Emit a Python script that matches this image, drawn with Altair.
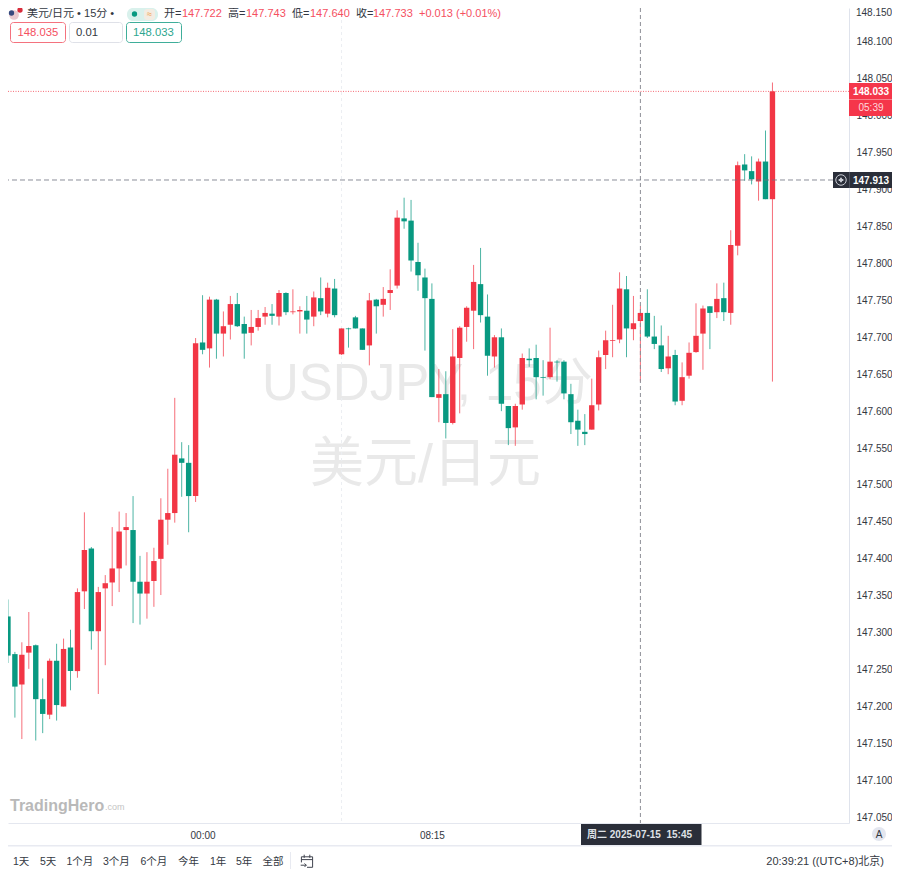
import altair as alt
import pandas as pd

opens = [147.286,147.322,147.271,147.230,147.273,147.283,147.210,147.189,147.262,147.200,
147.280,147.248,147.356,147.414,147.302,147.360,147.368,147.387,147.439,147.439,
147.369,147.353,147.370,147.400,147.453,147.462,147.536,147.530,147.485,147.693,
147.685,147.751,147.705,147.717,147.745,147.718,147.706,147.714,147.728,147.732,
147.728,147.760,147.734,147.735,147.736,147.728,147.753,147.732,147.766,147.677,
147.712,147.727,147.712,147.689,147.751,147.744,147.760,147.770,147.861,147.858,
147.802,147.781,147.752,147.618,147.623,147.584,147.672,147.714,147.736,147.772,
147.728,147.674,147.700,147.607,147.578,147.609,147.671,147.672,147.646,147.646,
147.667,147.667,147.623,147.587,147.572,147.575,147.609,147.676,147.695,147.697,
147.765,147.711,147.722,147.733,147.701,147.689,147.658,147.676,147.614,147.648,
147.680,147.705,147.742,147.734,147.753,147.733,147.824,147.934,147.925,147.911,
147.938,147.887]
closes = [147.318,147.269,147.227,147.270,147.282,147.210,147.190,147.262,147.202,147.278,
147.248,147.355,147.412,147.302,147.355,147.367,147.387,147.437,147.443,147.369,
147.353,147.369,147.397,147.453,147.462,147.541,147.530,147.485,147.692,147.683,
147.751,147.705,147.715,147.745,147.715,147.705,147.714,147.726,147.733,147.729,
147.760,147.734,147.735,147.737,147.724,147.754,147.735,147.767,147.730,147.712,
147.711,147.712,147.683,147.750,147.742,147.752,147.764,147.862,147.857,147.804,
147.784,147.753,147.619,147.623,147.584,147.674,147.713,147.740,147.775,147.730,
147.675,147.700,147.610,147.577,147.607,147.672,147.669,147.646,147.645,147.667,
147.666,147.624,147.585,147.575,147.569,147.608,147.673,147.696,147.696,147.766,
147.712,147.719,147.733,147.701,147.691,147.657,147.674,147.613,147.646,147.679,
147.702,147.739,147.733,147.752,147.734,147.825,147.933,147.926,147.914,147.938,
147.887,148.033]
highs = [147.325,147.345,147.274,147.287,147.328,147.284,147.238,147.265,147.285,147.292,
147.304,147.360,147.463,147.416,147.362,147.378,147.443,147.464,147.462,147.485,
147.404,147.409,147.415,147.482,147.522,147.618,147.558,147.554,147.699,147.757,
147.755,147.752,147.735,147.756,147.760,147.728,147.737,147.737,147.741,147.745,
147.764,147.761,147.765,147.742,147.756,147.762,147.781,147.774,147.779,147.712,
147.713,147.729,147.712,147.760,147.752,147.768,147.792,147.872,147.889,147.886,
147.828,147.793,147.773,147.657,147.654,147.711,147.715,147.742,147.798,147.821,
147.758,147.703,147.712,147.607,147.610,147.678,147.685,147.690,147.669,147.713,
147.669,147.669,147.637,147.602,147.596,147.644,147.682,147.709,147.744,147.788,
147.783,147.756,147.743,147.765,147.729,147.716,147.702,147.683,147.666,147.693,
147.746,147.743,147.742,147.773,147.774,147.845,147.938,147.948,147.945,147.942,
147.980,148.045]
lows = [147.280,147.259,147.185,147.156,147.251,147.154,147.164,147.183,147.181,147.200,
147.222,147.239,147.332,147.277,147.217,147.256,147.336,147.355,147.391,147.313,
147.311,147.319,147.335,147.351,147.419,147.449,147.484,147.436,147.477,147.677,
147.659,147.671,147.674,147.697,147.714,147.671,147.689,147.709,147.717,147.717,
147.716,147.730,147.731,147.705,147.705,147.715,147.730,147.727,147.727,147.676,
147.686,147.712,147.683,147.662,147.705,147.728,147.737,147.766,147.847,147.789,
147.763,147.682,147.619,147.585,147.563,147.582,147.597,147.694,147.684,147.720,
147.648,147.659,147.600,147.554,147.553,147.602,147.660,147.616,147.621,147.643,
147.640,147.616,147.569,147.553,147.554,147.575,147.601,147.657,147.673,147.692,
147.673,147.696,147.640,147.699,147.684,147.653,147.650,147.608,147.608,147.644,
147.679,147.656,147.684,147.726,147.722,147.717,147.811,147.912,147.907,147.885,
147.887,147.640]

price_ticks = [147.05,147.10,147.15,147.20,147.25,147.30,147.35,147.40,147.45,147.50,147.55,
               147.60,147.65,147.70,147.75,147.80,147.85,147.90,147.95,148.00,148.05,148.10]
time_ticks = [29, 62]
time_labels = ["00:00", "08:15"]
session_break = 49
crosshair_bar = 92
crosshair_price = 147.913
last_price = 148.033
range_buttons = ["1天","5天","1个月","3个月","6个月","今年","1年","5年","全部"]
range_button_x = [13,40,66.5,103,140.5,178,210,236,262.5]

UP, DOWN = "#f23645", "#089981"
FONT = "Liberation Sans, Noto Sans CJK SC"
TXT = "#333842"
HEAD_Y = 14

df = pd.DataFrame({"i": range(len(opens)), "o": opens, "c": closes, "h": highs, "l": lows})
df["up"] = df.c >= df.o

xs = alt.Scale(domain=[1.007, 122.014], nice=False, zero=False, padding=0)
ys = alt.Scale(domain=[147.0423, 148.1459], nice=False, zero=False, padding=0)
label_expr = " : ".join(f"datum.value == {v} ? '{t}'" for v, t in zip(time_ticks, time_labels)) + " : ''"
x_axis = alt.Axis(values=time_ticks, labelExpr=label_expr, title=None, grid=False, ticks=False,
                  domainColor="#e4e7ef", labelColor=TXT, labelFont=FONT, labelFontSize=10,
                  labelPadding=7, labelAngle=0)
y_axis = alt.Axis(values=price_ticks, format=".3f", orient="right", title=None, grid=False, ticks=False,
                  domainColor="#dfe3ec", labelColor=TXT, labelFont=FONT, labelFontSize=10,
                  labelPadding=7)
colour = alt.Color("up:N", legend=None, scale=alt.Scale(domain=[True, False], range=[UP, DOWN]))


def P(v):  # page pixel -> plot pixel
    return alt.value(v - 8)


def text(t, x, y, size=11, color=TXT, align="left", weight="normal", baseline="middle", font=FONT):
    return alt.Chart(alt.Data(values=[{"t": t}])).mark_text(
        align=align, baseline=baseline, fontSize=size, color=color, fontWeight=weight, font=font
    ).encode(x=P(x), y=P(y), text="t:N")


def box(x0, y0, x1, y1, fill="transparent", stroke=None, radius=0, sw=1):
    kw = {"stroke": stroke, "strokeWidth": sw} if stroke else {}
    return alt.Chart(alt.Data(values=[{}])).mark_rect(fill=fill, cornerRadius=radius, **kw).encode(
        x=P(x0), x2=P(x1), y=P(y0), y2=P(y1))


def dot(x, y, d, color):
    return alt.Chart(alt.Data(values=[{}])).mark_point(filled=True, color=color, opacity=1,
        size=3.1416 * d * d / 4).encode(x=P(x), y=P(y))


# background decorations
layers = [
    text("USDJPY, 15分", 262, 385, size=51, color="#e9e9e9"),
    text("美元/日元", 310, 466, size=54, color="#e9e9e9"),
    text("TradingHero", 10, 806, size=16, color="#b9b9b9", weight="bold"),
    text(".com", 105, 807, size=9, color="#c4c4c4"),
    alt.Chart(alt.Data(values=[{}])).mark_rule(color="#eceef2", strokeDash=[3, 3]).encode(
        x=alt.X(datum=session_break, scale=xs, axis=x_axis)),
]

# candles
base = alt.Chart(df)
layers += [
    base.mark_rule(strokeWidth=1, opacity=0.72, clip=True).encode(
        x=alt.X("i:Q", scale=xs, axis=x_axis),
        y=alt.Y("l:Q", scale=ys, axis=y_axis), y2="h:Q", color=colour),
    base.mark_bar(size=5.4, clip=True).encode(
        x=alt.X("i:Q", scale=xs, axis=x_axis),
        y=alt.Y("o:Q", scale=ys, axis=y_axis), y2="c:Q", color=colour),
]

# crosshair and last price
layers += [
    alt.Chart(alt.Data(values=[{}])).mark_rule(color="#8d8f96", strokeDash=[4, 3]).encode(
        x=alt.X(datum=crosshair_bar, scale=xs, axis=x_axis)),
    alt.Chart(alt.Data(values=[{}])).mark_rule(color="#6f7280", strokeDash=[5, 3], strokeWidth=0.8).encode(
        y=alt.Y(datum=crosshair_price, scale=ys, axis=y_axis)),
    alt.Chart(alt.Data(values=[{}])).mark_rule(color=UP, strokeDash=[1, 1.5], opacity=0.75).encode(
        y=alt.Y(datum=last_price, scale=ys, axis=y_axis)),
]

# price tags
layers += [
    text("148.150", 856, 8, size=10, baseline="top"),
    box(849, 83, 892, 116, fill="#f5364a"),
    box(849, 99, 892, 100, fill="#f9818c"),
    text("148.033", 871, 92, size=10, color="#ffffff", align="center", weight="bold"),
    text("05:39", 871, 107.5, size=10, color="#ffd9dd", align="center"),
    box(833, 172, 892, 188, fill="#2a2e39"),
    box(849, 172, 850, 188, fill="#4a4e5a"),
    alt.Chart(alt.Data(values=[{}])).mark_point(color="#c9ccd4", size=110, strokeWidth=1, opacity=1).encode(x=P(841), y=P(180)),
    alt.Chart(alt.Data(values=[{}])).mark_point(shape="cross", filled=True, color="#c9ccd4", size=22, opacity=1).encode(x=P(841), y=P(180)),
    text("147.913", 871, 180.5, size=10, color="#ffffff", align="center", weight="bold"),
    box(581, 824, 701.5, 845.5, fill="#2a2e39"),
    text("周二 2025-07-15\u00a0\u00a015:45", 587, 834.5, size=10, color="#dfe1e6", weight="bold"),
]

# header
layers += [
    dot(14, HEAD_Y + 1, 11, "#e9c9cf"),
    dot(11.5, HEAD_Y - 1, 6, "#36497e"),
    dot(20, HEAD_Y - 4, 6, "#d92d3c"),
    text("美元/日元 • 15分 •", 27, HEAD_Y, size=11),
    box(127, HEAD_Y - 6, 158, HEAD_Y + 7, fill="#d9f1ec", radius=6),
    dot(134.5, HEAD_Y, 6, "#089981"),
    box(144, HEAD_Y - 5, 155, HEAD_Y + 6, fill="#f3ece2", radius=3),
    text("≈", 149.5, HEAD_Y, size=9, color="#f29a38", align="center"),
]
for lab, lx, val, vx in [("开=", 164, "147.722", 182), ("高=", 228, "147.743", 246),
                         ("低=", 292, "147.640", 310), ("收=", 356, "147.733", 373)]:
    layers += [text(lab, lx, HEAD_Y, size=11), text(val, vx, HEAD_Y, size=11, color="#f5505f")]
layers += [
    text("+0.013 (+0.01%)", 419, HEAD_Y, size=11, color="#f5505f"),
    box(10.5, 22.5, 65.5, 42.5, fill="#ffffff", stroke="#f4727e", radius=3),
    text("148.035", 17.5, 32.5, size=11.3, color="#f5505f"),
    box(69.5, 22.5, 122.5, 42.5, fill="#ffffff", stroke="#dfe1e8", radius=3),
    text("0.01", 76, 32.5, size=11.3),
    box(126.5, 22.5, 181.5, 42.5, fill="#ffffff", stroke="#3fae9a", radius=3),
    text("148.033", 133, 32.5, size=11.3, color="#2da68f"),
]

# bottom bar
layers += [
    box(8, 845, 892, 846.5, fill="#e8eaf1"),
    dot(879, 834, 16, "#e3e6ef"),
    text("A", 879, 834.5, size=10, align="center"),
    box(290, 852, 291, 869, fill="#e8eaf1"),
    alt.Chart(alt.Data(values=[{}])).mark_point(
        shape="M-0.8,-0.6 H0.8 V0.9 H0 M-0.8,-0.6 V0.2 M-0.8,-0.2 H0.8 M-0.4,-0.9 V-0.45 M0.4,-0.9 V-0.45 M-0.9,0.6 H-0.1 M-0.35,0.35 L-0.1,0.6 L-0.35,0.85",
        color="#40444f", size=196, strokeWidth=1, opacity=1).encode(x=P(307), y=P(861)),
    text("20:39:21 ((UTC+8)北京)", 884, 862, size=11, align="right"),
]
for b, bx in zip(range_buttons, range_button_x):
    layers.append(text(b, bx, 862, size=10.5))

chart = alt.layer(*layers).resolve_scale(color="independent").properties(
    width=841, height=815,
    autosize=alt.AutoSizeParams(type="none"),
    padding={"left": 0, "top": 0, "right": 43, "bottom": 47},
    background="#ffffff",
).configure_view(strokeWidth=0)

chart.save("out.html", embed_options={"renderer": "svg", "actions": False})
